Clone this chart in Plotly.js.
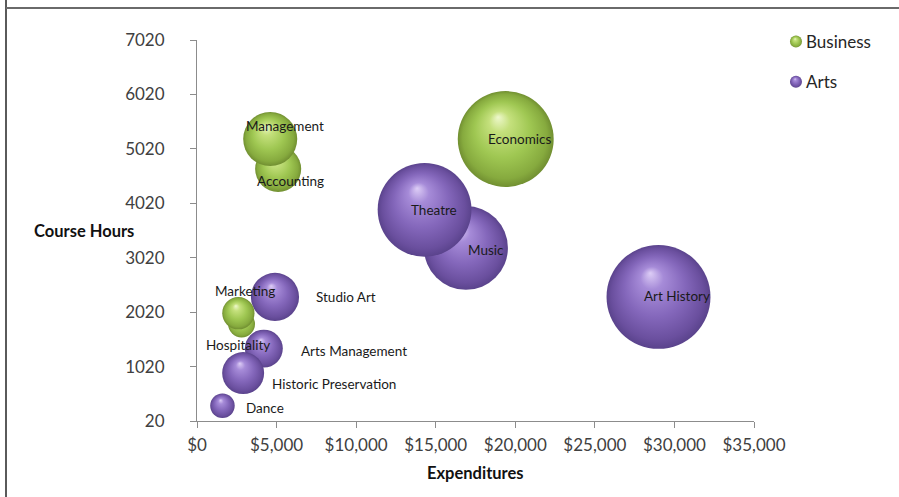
<!DOCTYPE html>
<html>
<head>
<meta charset="utf-8">
<script src="https://cdn.plot.ly/plotly-3.0.1.min.js"></script>
<style>
  html, body { margin: 0; padding: 0; background: #fff; }
  #wrap { position: relative; width: 899px; height: 497px; overflow: hidden; }
  #chart { position: absolute; left: 0; top: 0; width: 899px; height: 497px; }
  .rule-left { position: absolute; left: 5px; top: 0; width: 2px; height: 497px; background: #5a5a5a; }
  .rule-top { position: absolute; left: 6px; top: 7px; right: 0; height: 2px; background: #6a6a6a; }
</style>
</head>
<body>
<div id="wrap">
  <div id="chart"></div>
  <div class="rule-left"></div>
  <div class="rule-top"></div>
</div>
<script>
// Programs: expenditure ($), course hours, and bubble size (enrolment weight)
const businessNames = ['Accounting', 'Management', 'Economics', 'Hospitality', 'Marketing'];
const businessSpend = [5100, 4600, 19400, 2800, 2600];
const businessHours = [4650, 5200, 5200, 1800, 2000];
const businessSize  = [53, 73, 230, 18, 26];

const artsNames = ['Music', 'Theatre', 'Art History', 'Studio Art', 'Arts Management', 'Historic Preservation', 'Dance'];
const artsSpend = [16900, 14300, 29000, 4900, 4200, 2900, 1600];
const artsHours = [3200, 3900, 2300, 2300, 1350, 900, 300];
const artsSize  = [176, 220, 270, 58, 36, 44, 15];

const xTickVals = [0, 5000, 10000, 15000, 20000, 25000, 30000, 35000];
const yTickVals = [20, 1020, 2020, 3020, 4020, 5020, 6020, 7020];

// Label placement (pixel offsets from each bubble centre)
const labelPlacement = {
  'Management':            { anchor: 'center', dx: 15, dy: -13 },
  'Accounting':            { anchor: 'center', dx: 12, dy: 12 },
  'Economics':             { anchor: 'center', dx: 14, dy: 0 },
  'Marketing':             { anchor: 'center', dx: 7,  dy: -22 },
  'Hospitality':           { anchor: 'center', dx: -4, dy: 21 },
  'Theatre':               { anchor: 'center', dx: 9,  dy: 0 },
  'Music':                 { anchor: 'center', dx: 20, dy: 2 },
  'Art History':           { anchor: 'center', dx: 18, dy: -1 },
  'Studio Art':            { anchor: 'left',   dx: 39, dy: 0 },
  'Arts Management':       { anchor: 'left',   dx: 35, dy: 2 },
  'Historic Preservation': { anchor: 'left',   dx: 27, dy: 11 },
  'Dance':                 { anchor: 'left',   dx: 22, dy: 2 }
};

const FONT = 'Lato, "Open Sans", sans-serif';
const SIZEREF = 0.05;

function bubbleTrace(name, xs, ys, sizes, color, glow, rank) {
  return {
    type: 'scatter', mode: 'markers', name: name,
    x: xs, y: ys,
    legendgroup: name, legendrank: rank,
    cliponaxis: false,
    marker: {
      size: sizes, sizemode: 'area', sizeref: SIZEREF, opacity: 1,
      color: color, line: { width: 0 },
      gradient: { type: 'radial', color: glow }
    },
    hoverinfo: 'skip'
  };
}

const traces = [
  bubbleTrace('Arts', artsSpend, artsHours, artsSize, '#7b5cb0', '#c9b0ec', 2),
  bubbleTrace('Business', businessSpend, businessHours, businessSize, '#94c14a', '#d4ea9a', 1)
];

function labelsFor(names, xs, ys) {
  return names.map((n, i) => {
    const p = labelPlacement[n];
    return {
      x: xs[i], y: ys[i], xref: 'x', yref: 'y', text: n, showarrow: false,
      xanchor: p.anchor, yanchor: 'middle', xshift: p.dx, yshift: -p.dy,
      font: { family: FONT, size: 13.5, color: '#1a1a1a' }
    };
  });
}

const annotations = [
  ...labelsFor(artsNames, artsSpend, artsHours),
  ...labelsFor(businessNames, businessSpend, businessHours),
  { text: '<b>Course Hours</b>', xref: 'paper', yref: 'paper', x: 0, y: 0.5,
    xanchor: 'right', yanchor: 'middle', xshift: -61, showarrow: false,
    font: { family: FONT, size: 16.5, color: '#111' } },
  { text: '<b>Expenditures</b>', xref: 'paper', yref: 'paper', x: 0.5, y: 0,
    xanchor: 'center', yanchor: 'middle', yshift: -52, showarrow: false,
    font: { family: FONT, size: 16.5, color: '#111' } }
];

const axisCommon = {
  showgrid: false, zeroline: false, showline: true,
  linecolor: '#8c8c8c', linewidth: 1,
  ticks: 'outside', ticklen: 6, tickcolor: '#8c8c8c', tickwidth: 1,
  tickfont: { family: FONT, size: 17, color: '#404040' },
  automargin: false, fixedrange: true
};

const layout = {
  width: 899, height: 497,
  margin: { l: 197, r: 145, t: 40, b: 76 },
  paper_bgcolor: '#ffffff', plot_bgcolor: '#ffffff',
  font: { family: FONT },
  hovermode: false,
  xaxis: Object.assign({}, axisCommon, {
    range: [0, 35000], tickmode: 'array', tickvals: xTickVals,
    ticktext: xTickVals.map(v => '$' + v.toLocaleString('en-US')),
    ticklabelstandoff: 3
  }),
  yaxis: Object.assign({}, axisCommon, {
    range: [20, 7020], tickmode: 'array', tickvals: yTickVals,
    ticktext: yTickVals.map(String),
    ticklabelstandoff: 22
  }),
  legend: {
    x: 1.0215, xanchor: 'left', y: 1.042, yanchor: 'top',
    bgcolor: 'rgba(0,0,0,0)', borderwidth: 0,
    itemsizing: 'constant', tracegroupgap: 15,
    font: { family: FONT, size: 17, color: '#262626' }
  },
  showlegend: true,
  annotations: annotations
};

// Sphere shading: offset highlight and soft darker rim on each radial gradient
const sphereStops = {
  green:  [[0, '#eef8cc'], [0.22, '#c4e07c'], [0.58, '#9fc752'], [0.88, '#86aa3e'], [1, '#718f31']],
  purple: [[0, '#ddcdf6'], [0.22, '#a68bd8'], [0.58, '#8467bb'], [0.88, '#6a4f9e'], [1, '#5a438c']]
};

function shadeSpheres(gd) {
  gd.querySelectorAll('radialGradient').forEach(g => {
    const first = g.querySelector('stop');
    if (!first) return;
    const nums = (first.getAttribute('stop-color') || '').match(/\d+/g);
    if (!nums) return;
    const r = +nums[0], gr = +nums[1];
    const stops = gr > r ? sphereStops.green : sphereStops.purple;
    g.setAttribute('cx', '50%'); g.setAttribute('cy', '50%'); g.setAttribute('r', '50%');
    g.setAttribute('fx', '42%'); g.setAttribute('fy', '27%');
    while (g.firstChild) g.removeChild(g.firstChild);
    stops.forEach(([o, c]) => {
      const s = document.createElementNS('http://www.w3.org/2000/svg', 'stop');
      s.setAttribute('offset', (o * 100) + '%');
      s.setAttribute('stop-color', c);
      g.appendChild(s);
    });
  });
  // legend swatches sit close to their text
  gd.querySelectorAll('.legend .legendpoints').forEach(el => {
    if (el.dataset.nudged) return;
    const t = el.getAttribute('transform') || '';
    el.setAttribute('transform', 'translate(10,0) ' + t);
    el.dataset.nudged = '1';
  });
}

const gd = document.getElementById('chart');
Plotly.newPlot(gd, traces, layout, { displayModeBar: false, staticPlot: true }).then(() => {
  shadeSpheres(gd);
  gd.on && gd.on('plotly_afterplot', () => shadeSpheres(gd));
});
</script>
</body>
</html>
